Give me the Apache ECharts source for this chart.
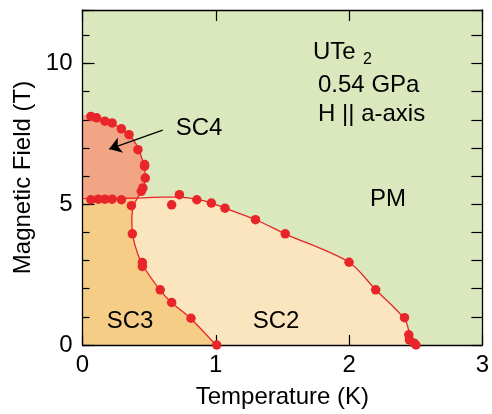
<!DOCTYPE html>
<html>
<head>
<meta charset="utf-8">
<script src="https://cdn.jsdelivr.net/npm/echarts@6/dist/echarts.min.js"></script>
<style>
  html, body { margin: 0; padding: 0; background: #fff; }
  #chart { width: 492px; height: 414px; }
</style>
</head>
<body>
<div id="chart"></div>
<script>
  // measured points [T (K), H (T)]
  const sc4Dots = [[0.063, 8.12], [0.106, 8.07], [0.168, 7.95], [0.222, 7.89], [0.292, 7.68], [0.349, 7.47],
    [0.416, 6.94], [0.466, 6.41], [0.466, 6.35], [0.471, 5.93], [0.453, 5.58], [0.441, 5.46]]
  const flatDots = [[0.063, 5.16], [0.118, 5.18], [0.168, 5.18], [0.222, 5.18], [0.292, 5.16]]
  const sc3Dots = [[0.367, 4.95], [0.374, 3.95], [0.449, 2.93], [0.449, 2.79], [0.583, 1.96], [0.669, 1.51],
    [0.814, 0.95], [1.007, 0.0]]
  const sc2Dots = [[0.669, 4.98], [0.727, 5.34], [0.858, 5.16], [0.967, 5.04], [1.069, 4.86], [1.298, 4.45],
    [1.521, 3.95], [2.0, 2.94], [2.2, 1.96], [2.416, 0.97], [2.448, 0.36], [2.453, 0.18], [2.49, 0.06], [2.502, 0.0]]

  // phase boundaries
  const sc4Line = [[0.0, 8.18], [0.04, 8.17], [0.1, 8.08], [0.2, 7.92], [0.3, 7.66], [0.38, 7.3], [0.43, 6.85],
    [0.465, 6.3], [0.47, 5.9], [0.45, 5.5], [0.41, 5.2]]
  const innerLine = [[0.41, 5.2], [0.38, 4.9], [0.37, 4.5], [0.375, 3.95], [0.41, 3.3], [0.45, 2.85],
    [0.58, 1.96], [0.67, 1.5], [0.81, 0.95], [1.0, 0]]
  const outerLine = [[0, 5.2], [0.2, 5.21], [0.41, 5.22], [0.6, 5.25], [0.73, 5.25], [0.86, 5.17], [0.97, 5.04],
    [1.07, 4.86], [1.3, 4.45], [1.52, 3.95], [2.0, 2.94], [2.2, 1.96], [2.42, 0.9], [2.46, 0.3], [2.5, 0]]

  const xTicks = [0, 1, 2, 3]
  const yLabels = [0, 5, 10]

  const font = "'Liberation Sans', Arial, Helvetica, sans-serif"
  const red = '#e8262a'

  // closed regions
  const sc2Area = [[0, 0]].concat(outerLine)
  const sc3Area = [[0, 0], [0, 5.2]].concat(innerLine)
  const sc4Area = [[0, 5.2]].concat(sc4Line)

  const fill = (pts, color) => ({
    type: 'custom',
    z: 1,
    silent: true,
    data: [0],
    renderItem: (params, api) => ({
      type: 'polygon',
      shape: { points: pts.map(p => api.coord(p)) },
      style: { fill: color }
    })
  })

  const line = (pts, extra) => Object.assign({
    type: 'line',
    z: 4,
    data: pts,
    smooth: 0.3,
    symbol: 'none',
    silent: true,
    lineStyle: { color: red, width: 1.3 }
  }, extra || {})

  const axisBase = {
    type: 'value',
    splitLine: { show: false },
    axisLine: { show: true, onZero: false, lineStyle: { color: '#000', width: 1.3 } },
    z: 5
  }

  const chart = echarts.init(document.getElementById('chart'))
  chart.setOption({
    animation: false,
    grid: {
      left: 82.5, right: 7, top: 10, bottom: 68,
      show: true, backgroundColor: '#dbe8bd', borderWidth: 0
    },
    xAxis: [
      Object.assign({}, axisBase, {
        min: 0, max: 3, interval: 1, position: 'bottom',
        name: 'Temperature (K)', nameLocation: 'middle', nameGap: 40,
        nameTextStyle: { fontFamily: font, fontSize: 24, color: '#000' },
        axisTick: { inside: true, length: 10, lineStyle: { color: '#000', width: 1.2 } },
        axisLabel: { fontFamily: font, fontSize: 24, color: '#000', margin: 8,
          formatter: v => xTicks.indexOf(v) >= 0 ? String(v) : '' }
      }),
      Object.assign({}, axisBase, {
        min: 0, max: 3, interval: 1, position: 'top',
        axisTick: { inside: true, length: 11, lineStyle: { color: '#000', width: 1.2 } },
        axisLabel: { show: false }
      })
    ],
    yAxis: [
      Object.assign({}, axisBase, {
        min: 0, max: 11.9, interval: 5, position: 'left',
        name: 'Magnetic Field (T)', nameLocation: 'middle', nameGap: 46,
        nameTextStyle: { fontFamily: font, fontSize: 24, color: '#000' },
        axisTick: { inside: true, length: 12, lineStyle: { color: '#000', width: 1.2 } },
        axisLabel: { fontFamily: font, fontSize: 24, color: '#000', margin: 10,
          formatter: v => yLabels.indexOf(v) >= 0 ? String(v) : '' }
      }),
      Object.assign({}, axisBase, {
        min: 0, max: 11.9, interval: 1, position: 'left',
        axisLine: { show: false },
        axisTick: { inside: true, length: 7, lineStyle: { color: '#000', width: 1.2 } },
        axisLabel: { show: false }
      }),
      Object.assign({}, axisBase, {
        min: 0, max: 11.9, interval: 1, position: 'right',
        axisTick: { inside: true, length: 11, lineStyle: { color: '#000', width: 1.2 } },
        axisLabel: { show: false }
      })
    ],
    series: [
      fill(sc2Area, '#fbe5be'),
      fill(sc3Area, '#f6cd87'),
      fill(sc4Area, '#f2a584'),
      line(sc4Line.slice(1).concat(innerLine.slice(1)), {
        markLine: {
          silent: true,
          symbol: ['none', 'arrow'],
          symbolSize: 12,
          label: { show: false },
          lineStyle: { color: '#000', width: 1.3, type: 'solid' },
          data: [[{ coord: [0.602, 7.63] }, { coord: [0.2, 6.96] }]]
        }
      }),
      line(outerLine),
      {
        type: 'scatter',
        z: 6,
        silent: true,
        symbolSize: 9.5,
        itemStyle: { color: red, opacity: 1 },
        data: sc4Dots.concat(flatDots, sc3Dots, sc2Dots)
      }
    ],
    graphic: [
      { type: 'text', x: 199, y: 128, z: 10, style: { text: 'SC4', font: '24px ' + font, fill: '#000', textAlign: 'center', textVerticalAlign: 'middle' } },
      { type: 'text', x: 388, y: 199, z: 10, style: { text: 'PM', font: '24px ' + font, fill: '#000', textAlign: 'center', textVerticalAlign: 'middle' } },
      { type: 'text', x: 130, y: 321, z: 10, style: { text: 'SC3', font: '24px ' + font, fill: '#000', textAlign: 'center', textVerticalAlign: 'middle' } },
      { type: 'text', x: 276, y: 321, z: 10, style: { text: 'SC2', font: '24px ' + font, fill: '#000', textAlign: 'center', textVerticalAlign: 'middle' } },
      { type: 'text', x: 313, y: 52, z: 10, style: { text: 'UTe', font: '24px ' + font, fill: '#000', textAlign: 'left', textVerticalAlign: 'middle' } },
      { type: 'text', x: 363, y: 60, z: 10, style: { text: '2', font: '16px ' + font, fill: '#000', textAlign: 'left', textVerticalAlign: 'middle' } },
      { type: 'text', x: 318, y: 85, z: 10, style: { text: '0.54 GPa', font: '24px ' + font, fill: '#000', textAlign: 'left', textVerticalAlign: 'middle' } },
      { type: 'text', x: 318, y: 114, z: 10, style: { text: 'H || a-axis', font: '24px ' + font, fill: '#000', textAlign: 'left', textVerticalAlign: 'middle' } }
    ]
  })
</script>
</body>
</html>
